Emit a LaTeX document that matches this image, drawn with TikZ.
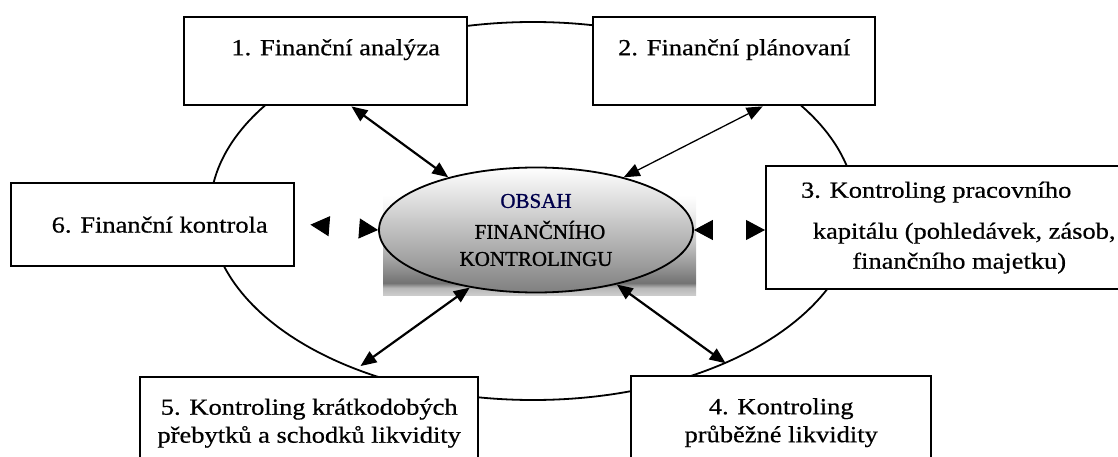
\documentclass[tikz,border=0pt]{standalone}
\usepackage{fontspec}
\setmainfont{Liberation Serif}[FakeStretch=1.15,FakeBold=0.6]
\newfontfamily\corefont{Liberation Serif}[FakeBold=1]
\usetikzlibrary{arrows.meta,shapes.geometric,calc}
\pgfdeclareverticalshading{plateshade}{100bp}{color(0bp)=(black!20); color(25bp)=(black!20); color(28bp)=(black!28); color(30bp)=(black!55); color(35bp)=(black!45); color(47bp)=(black!22); color(60bp)=(black!5); color(66bp)=(white); color(100bp)=(white)}
\tikzset{
  box/.style={draw, line width=2.4pt, fill=white, anchor=north west, align=center,
    inner sep=0pt, font=\fontsize{23}{28}\selectfont},
  link/.style={{Triangle[length=16pt,width=13pt]}-{Triangle[length=16pt,width=13pt]}, line width=2.2pt},
  flat/.style={white, line width=1pt,
    {Triangle[length=19pt,width=20pt,color=black,fill=black]}-{Triangle[length=19pt,width=20pt,color=black,fill=black]}}
}
\begin{document}
\begin{tikzpicture}[x=1pt,y=-1pt]
                \useasboundingbox (0,0) rectangle (1118,457);
                \clip (0,0) rectangle (1118,457);
                % the loop behind the boxes
                \draw[line width=1.8pt] (533,211) ellipse [x radius=323, y radius=189];
                \node[shading=plateshade, minimum width=313pt, minimum height=122pt,
                    anchor=north west, inner sep=0pt] (plate) at (383,173) {};
                \node[ellipse, draw, line width=1.8pt, top color=white, bottom color=black!50,
                    minimum width=314pt, minimum height=125pt, align=center,
                    font=\corefont\fontsize{21}{27}\selectfont] (core) at (536,230)
                    {\textcolor{black!70!blue}{OBSAH}\\[4pt]\hspace*{8pt}FINANČNÍHO\\KONTROLINGU};
                % the six boxes
                \node[box, minimum width=283pt, minimum height=88pt, text height=16pt, text depth=28pt]
                    (fa) at (183,16) {\hspace*{20pt}1. Finanční analýza};
                \node[box, minimum width=282pt, minimum height=88pt, text height=16pt, text depth=28pt]
                    (fp) at (592,16) {2. Finanční plánovaní};
                \node[box, minimum width=370pt, minimum height=123pt]
                    (kpk) at (765,165) {3. Kontroling pracovního\hspace*{30pt}\\[13pt]
                    \hspace*{26pt}kapitálu (pohledávek, zásob,\\[2pt]
                    \hspace*{16pt}finančního majetku)};
                \node[box, minimum width=300pt, minimum height=93pt]
                    (kpl) at (630,375) {4. Kontroling\\průběžné likvidity};
                \node[box, minimum width=338pt, minimum height=92pt]
                    (kkp) at (139,376) {5. Kontroling krátkodobých\\přebytků a schodků likvidity};
                \node[box, minimum width=283pt, minimum height=83pt]
                    (fk) at (10,182) {\hspace*{14pt}6. Finanční kontrola};
                % connectors
                \draw[link] ($(fa.south west)!.59!(fa.south east)$) -- (core.149);
                \draw[link, line width=1.3pt] ($(fp.south west)!.60!(fp.south east)$) -- (core.31);
                \draw[link, shorten >=17pt] (core.221) -- ($(kkp.north west)!.61!(kkp.north east)$);
                \draw[link, shorten >=20pt] (core.326) -- ($(kpl.north west)!.37!(kpl.north east)$);
                \draw[flat] ([xshift=15pt]fk.east) -- (core.west);
                \draw[flat] (core.east) -- (core.east -| kpk.west);
            \end{tikzpicture}
\end{document}
